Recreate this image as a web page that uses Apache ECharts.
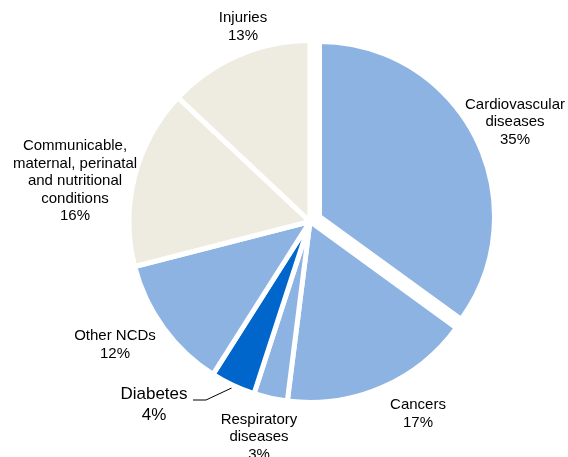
<!DOCTYPE html>
<html><head><meta charset="utf-8">
<script src="https://cdn.jsdelivr.net/npm/echarts@6/dist/echarts.min.js"></script>
<style>html,body{margin:0;padding:0;background:#fff}#c{width:568px;height:457px}</style>
</head><body><div id="c"></div>
<script>
// ---- data ----
const categories = ['Cardiovascular\ndiseases', 'Cancers', 'Respiratory\ndiseases', 'Diabetes', 'Other NCDs',
  'Communicable,\nmaternal, perinatal\nand nutritional\nconditions', 'Injuries'];
const values = [35, 17, 3, 4, 12, 16, 13];
const colors = ['#8DB3E2', '#8DB3E2', '#8DB3E2', '#0066CC', '#8DB3E2', '#EEECE1', '#EEECE1'];
const explodedIndex = 0; // Cardiovascular slice pulled out

// ---- layout (not data) ----
const mainCenter = [310, 221.5], mainRadius = 181;
const explCenter = [319.5, 216.5], explRadius = 175;
const labelCenters = [[515, 122], [418, 414], [259, 437], [154, 405], [115, 345], [75, 181], [243, 27]];
const FONT = '"Liberation Sans", Arial, sans-serif';

const total = values.reduce((a, b) => a + b, 0);
function midAngle(i) { // degrees clockwise from 12 o'clock
  let s = 0; for (let k = 0; k < i; k++) s += values[k];
  return (s + values[i] / 2) / total * 360;
}

const dataMain = categories.map((n, i) => {
  const item = { name: n, value: values[i] };
  if (i === explodedIndex) {
    item.itemStyle = { color: 'transparent', borderWidth: 0 };
  } else {
    item.itemStyle = { color: colors[i] };
  }
  if (i === 3) {
    item.label = { fontSize: 17, lineHeight: 21 };
    item.labelLine = { show: true };
  } else {
    item.labelLine = { show: false };
  }
  return item;
});
const dataExpl = categories.map((n, i) => {
  const item = { name: n, value: values[i] };
  if (i === explodedIndex) item.itemStyle = { color: colors[i] };
  else item.itemStyle = { color: 'transparent', borderWidth: 0 };
  return item;
});

const chart = echarts.init(document.getElementById('c'), null, { renderer: 'canvas' });
chart.setOption({
  animation: false,
  backgroundColor: '#fff',
  series: [
    {
      type: 'pie', center: mainCenter, radius: mainRadius, startAngle: 90, clockwise: true,
      silent: true, emphasis: { disabled: true },
      itemStyle: { borderColor: '#fff', borderWidth: 5 },
      label: {
        show: true, position: 'outside', formatter: '{b}\n{c}%', overflow: 'none',
        color: '#000', fontFamily: FONT, fontSize: 15, lineHeight: 17.5, align: 'center'
      },
      labelLine: { show: false, lineStyle: { color: '#000', width: 1 } },
      labelLayout: function (p) {
        const i = p.dataIndex;
        const o = { x: labelCenters[i][0], y: labelCenters[i][1], align: 'center', verticalAlign: 'middle', width: 200, hideOverlap: false, moveOverlap: false };
        if (i === 3) {
          const a = midAngle(i) * Math.PI / 180, r = mainRadius + 3;
          const sx = mainCenter[0] + r * Math.sin(a), sy = mainCenter[1] - r * Math.cos(a);
          o.labelLinePoints = [[sx, sy], [206, 400], [193, 400]];
        }
        return o;
      },
      data: dataMain
    },
    {
      type: 'pie', center: explCenter, radius: explRadius, startAngle: 90, clockwise: true,
      silent: true, emphasis: { disabled: true },
      itemStyle: { borderColor: '#fff', borderWidth: 5 },
      label: { show: false }, labelLine: { show: false },
      data: dataExpl
    }
  ]
});
</script></body></html>
